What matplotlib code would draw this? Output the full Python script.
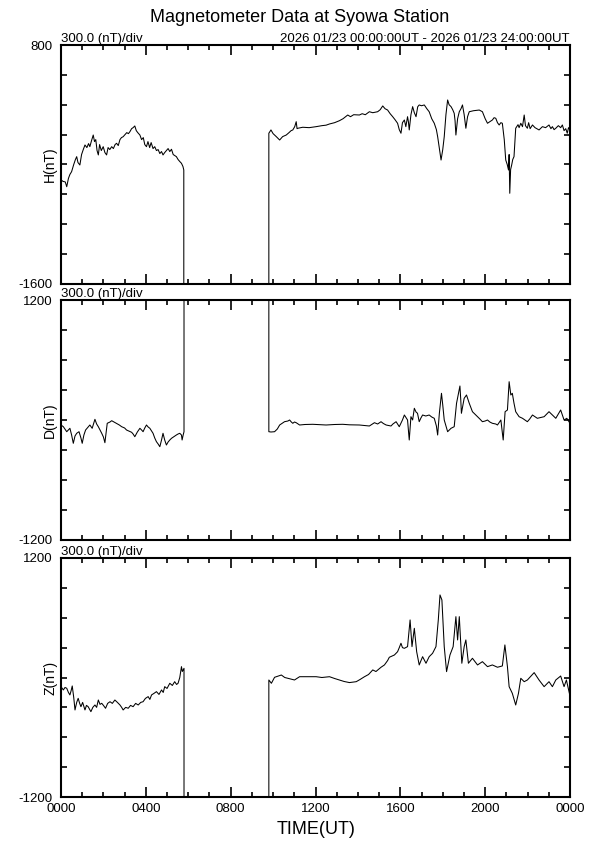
import matplotlib
matplotlib.use('Agg')
import matplotlib.pyplot as plt
import numpy as np
from matplotlib.ticker import MultipleLocator

plt.rcParams['font.family'] = ['Liberation Sans', 'DejaVu Sans']

# missing data is recorded as a huge fill value (draws the vertical edges of the gap)
FILL = 99999.0
gap_start = 5.80
gap_end = 9.80

# H component (nT) before / after data gap
h_t1 = [0.00, 0.10, 0.20, 0.27, 0.35, 0.42, 0.50, 0.60, 0.68, 0.74, 0.80, 0.89, 0.97, 1.05,
        1.13, 1.22, 1.30, 1.36, 1.44, 1.52, 1.58, 1.64, 1.70, 1.76, 1.82, 1.90, 1.99, 2.07,
        2.15, 2.22, 2.30, 2.39, 2.47, 2.55, 2.62, 2.70, 2.78, 2.85, 2.93, 3.02, 3.10, 3.18,
        3.25, 3.33, 3.40, 3.48, 3.55, 3.62, 3.72, 3.80, 3.88, 3.95, 4.03, 4.10, 4.18, 4.25,
        4.34, 4.42, 4.50, 4.58, 4.66, 4.74, 4.81, 4.89, 4.97, 5.05, 5.13, 5.21, 5.29, 5.36,
        5.44, 5.52, 5.60, 5.68, 5.75, 5.79]
h_v1 = [-555, -570, -575, -623, -540, -500, -472, -400, -350, -321, -380, -405, -300, -250,
        -204, -230, -190, -221, -160, -104, -170, -150, -260, -304, -200, -260, -221, -280,
        -304, -230, -250, -221, -240, -200, -187, -210, -150, -130, -121, -100, -80, -90,
        -70, -40, -30, -13, -60, -80, -104, -150, -130, -200, -221, -170, -230, -180,
        -240, -221, -260, -250, -290, -270, -304, -280, -260, -240, -270, -247, -300, -310,
        -321, -350, -370, -388, -420, -455]
h_t2 = [9.80, 9.90, 10.00, 10.15, 10.31, 10.45, 10.62, 10.75, 10.85, 10.93, 11.02, 11.09, 11.13,
        11.17, 11.30, 11.40, 11.70, 12.03, 12.30, 12.50, 12.66, 12.90, 13.13, 13.30, 13.52,
        13.65, 13.80, 14.07, 14.20, 14.35, 14.54, 14.70, 14.93, 15.05, 15.17, 15.28, 15.40,
        15.52, 15.64, 15.75, 15.87, 15.95, 16.03, 16.10, 16.19, 16.26, 16.34, 16.38, 16.42,
        16.50, 16.58, 16.66, 16.74, 16.82, 16.89, 17.00, 17.13, 17.25, 17.36, 17.48, 17.60,
        17.70, 17.76, 17.85, 17.92, 18.00, 18.07, 18.15, 18.23, 18.30, 18.39, 18.47, 18.54,
        18.58, 18.62, 18.70, 18.78, 18.86, 18.93, 19.01, 19.09, 19.17, 19.25, 19.45, 19.72,
        19.87, 20.00, 20.11, 20.22, 20.34, 20.42, 20.50, 20.58, 20.66, 20.74, 20.81, 20.90,
        20.97, 21.04, 21.10, 21.13, 21.16, 21.20, 21.25, 21.30, 21.36, 21.44, 21.55, 21.60,
        21.68, 21.76, 21.84, 21.90, 21.99, 22.05, 22.12, 22.23, 22.35, 22.54, 22.70, 22.85,
        23.01, 23.10, 23.17, 23.25, 23.33, 23.45, 23.56, 23.64, 23.72, 23.80, 23.87, 23.93,
        24.00]
h_v2 = [-86, -53, -90, -120, -154, -120, -104, -80, -60, -53, -20, 30, -40,
        -36, -30, -26, -30, -20, -10, -5, 7, 20, 40, 60, 97,
        80, 100, 97, 110, 100, 130, 120, 130, 150, 188, 160, 147,
        110, 80, 50, 14, -50, -86, 20, 47, -20, 80, 30, -53,
        100, 181, 120, 80, 180, 198, 190, 198, 160, 130, 60, 14,
        -50, -121, -250, -355, -250, -121, 100, 248, 200, 181, 150, 114,
        40, -104, 60, 130, 160, 198, 100, -36, 80, 130, 140, 147,
        130, 60, 14, 30, 47, 70, 64, 20, -3, 20, 14, -150,
        -355, -400, -455, -300, -689, -450, -405, -350, -321, -36, 0, -30,
        14, -20, 97, -10, -36, 20, -40, -3, -30, -53, -20, -30,
        -3, -40, -20, -50, -36, -10, -30, -3, -60, -40, -86, -30,
        -53]

# D component (nT)
d_t1 = [0.00, 0.11, 0.27, 0.42, 0.50, 0.58, 0.66, 0.74, 0.85, 0.94, 1.00, 1.08, 1.16, 1.28,
        1.36, 1.47, 1.60, 1.68, 1.76, 1.92, 2.00, 2.07, 2.18, 2.31, 2.39, 2.50, 2.62, 2.75,
        2.86, 3.00, 3.09, 3.20, 3.33, 3.40, 3.48, 3.60, 3.72, 3.80, 3.87, 3.95, 4.03, 4.11,
        4.19, 4.27, 4.34, 4.42, 4.50, 4.58, 4.66, 4.74, 4.81, 4.89, 4.97, 5.05, 5.13, 5.21,
        5.30, 5.36, 5.44, 5.52, 5.60, 5.68, 5.71, 5.76, 5.80]
d_v1 = [-50, -67, -117, -83, -150, -233, -160, -133, -117, -180, -233, -150, -100, -70,
        -50, -83, 7, -40, -67, -133, -170, -227, -33, -20, -7, -20, -33, -50,
        -67, -80, -100, -110, -123, -140, -167, -120, -83, -100, -117, -80, -50, -70,
        -83, -110, -133, -180, -217, -240, -267, -200, -133, -200, -250, -220, -200, -183,
        -170, -160, -150, -140, -133, -150, -200, -150, -117]
d_t2 = [9.80, 9.90, 10.07, 10.20, 10.31, 10.45, 10.54, 10.70, 10.78, 10.86, 10.93, 11.01, 11.09,
        11.25, 11.50, 11.87, 12.20, 12.50, 12.90, 13.28, 13.60, 14.07, 14.30, 14.54, 14.78,
        14.93, 15.09, 15.20, 15.33, 15.45, 15.56, 15.65, 15.80, 15.87, 15.95, 16.10, 16.19,
        16.28, 16.34, 16.42, 16.50, 16.58, 16.66, 16.74, 16.81, 16.89, 16.97, 17.05, 17.20,
        17.36, 17.48, 17.60, 17.70, 17.76, 17.84, 17.94, 18.00, 18.07, 18.23, 18.39, 18.54,
        18.65, 18.81, 18.85, 18.88, 18.95, 19.01, 19.12, 19.25, 19.40, 19.64, 19.75, 19.87,
        20.00, 20.11, 20.22, 20.34, 20.50, 20.58, 20.74, 20.85, 20.94, 21.05, 21.13, 21.21,
        21.28, 21.36, 21.44, 21.60, 21.76, 21.99, 22.10, 22.23, 22.46, 22.78, 23.01, 23.17,
        23.33, 23.56, 23.72, 23.85, 24.00]
d_v2 = [-117, -120, -117, -90, -50, -30, -17, -10, 0, -20, -33, -20, -27,
        -50, -45, -43, -47, -50, -45, -43, -48, -50, -55, -60, -27,
        -40, -17, -35, -50, -55, -60, -40, -17, -40, -67, 0, 50,
        20, 0, -200, 33, 0, 117, 80, 67, -17, 20, 50, 40,
        50, 30, 17, -60, -150, 67, 267, 150, 0, -117, -83, -67,
        167, 340, 200, 67, 150, 217, 250, 167, 83, 33, 10, -17,
        -10, 0, -20, -33, -40, -50, 0, -200, 83, 100, 383, 250,
        267, 167, 83, 33, 17, -17, 10, 50, 17, 33, 83, 50,
        17, 100, 0, 17, -33]

# Z component (nT)
z_t1 = [0.00, 0.06, 0.11, 0.19, 0.27, 0.35, 0.42, 0.48, 0.53, 0.60, 0.66, 0.74, 0.81, 0.88,
        0.94, 1.02, 1.13, 1.20, 1.28, 1.35, 1.41, 1.50, 1.60, 1.68, 1.76, 1.84, 1.92, 2.00,
        2.10, 2.20, 2.31, 2.42, 2.54, 2.66, 2.78, 2.86, 2.93, 3.05, 3.17, 3.28, 3.40, 3.52,
        3.64, 3.76, 3.87, 3.98, 4.11, 4.19, 4.27, 4.38, 4.50, 4.62, 4.74, 4.82, 4.89, 5.00,
        5.13, 5.25, 5.36, 5.45, 5.52, 5.60, 5.68, 5.72, 5.76, 5.80]
z_v1 = [-92, -110, -125, -100, -108, -150, -175, -130, -85, -200, -326, -250, -209, -260,
        -293, -250, -326, -280, -293, -320, -343, -300, -276, -300, -226, -270, -259, -280,
        -309, -260, -243, -260, -226, -250, -276, -300, -326, -300, -309, -280, -293, -260,
        -276, -250, -243, -210, -192, -220, -175, -160, -142, -170, -125, -150, -92, -110,
        -58, -80, -42, -70, -58, 0, 109, 60, 76, 92]
z_t2 = [9.80, 9.92, 10.07, 10.39, 10.55, 10.70, 11.01, 11.25, 11.56, 12.03, 12.30, 12.66, 12.90,
        13.13, 13.35, 13.60, 13.92, 14.10, 14.31, 14.50, 14.70, 14.85, 15.09, 15.25, 15.40,
        15.48, 15.60, 15.72, 15.87, 15.95, 16.03, 16.10, 16.19, 16.34, 16.46, 16.55, 16.66,
        16.77, 16.89, 17.05, 17.21, 17.36, 17.52, 17.68, 17.79, 17.87, 17.96, 18.07, 18.18,
        18.34, 18.49, 18.62, 18.70, 18.78, 18.90, 19.01, 19.09, 19.21, 19.40, 19.64, 19.87,
        20.11, 20.34, 20.58, 20.81, 20.93, 21.05, 21.13, 21.28, 21.44, 21.57, 21.68, 21.84,
        21.99, 22.31, 22.54, 22.78, 23.01, 23.17, 23.33, 23.56, 23.72, 23.83, 24.00]
z_v2 = [-25, -58, 2, 25, 0, -8, -25, 8, 8, 8, 0, 8, -10,
        -25, -40, -51, -42, -20, 8, 30, 76, 60, 103, 126, 170,
        203, 215, 226, 259, 300, 344, 300, 293, 310, 578, 310, 494,
        259, 126, 209, 143, 209, 243, 310, 578, 829, 779, 310, 59,
        226, 310, 611, 377, 611, 143, 310, 377, 143, 193, 126, 159,
        109, 126, 103, 116, 327, 109, -92, -159, -276, -159, -8, -42,
        -25, 49, -25, -92, -42, -92, -25, 15, -92, -25, -186]

panels = ['H(nT)', 'D(nT)', 'Z(nT)']
y_limits = [(-1600, 800), (-1200, 1200), (-1200, 1200)]
fill_sign = [-1, 1, -1]
series = [(h_t1, h_v1, h_t2, h_v2), (d_t1, d_v1, d_t2, d_v2), (z_t1, z_v1, z_t2, z_v2)]
xtick_pos = [0, 4, 8, 12, 16, 20, 24]
xtick_labels = ['0000', '0400', '0800', '1200', '1600', '2000', '0000']

fig = plt.figure(figsize=(5.95, 8.42), dpi=100)
W, H = 595.0, 842.0
left, right = 61, 570
boxes = [(45, 284), (300, 540), (558, 797)]

for i, (name, (lo, hi), sgn, (t1, v1, t2, v2)) in enumerate(zip(panels, y_limits, fill_sign, series)):
    top, bot = boxes[i]
    ax = fig.add_axes([left / W, 1 - bot / H, (right - left) / W, (bot - top) / H])
    t = list(t1) + [gap_start, gap_end] + list(t2)
    v = list(v1) + [sgn * FILL, sgn * FILL] + list(v2)
    ax.plot(t, v, color='black', lw=0.75)
    ax.set_xlim(0, 24)
    ax.set_ylim(lo, hi)

    ax.set_xticks(xtick_pos)
    ax.xaxis.set_minor_locator(MultipleLocator(1))
    yt = np.arange(lo, hi + 1, 300)
    ylabels = [''] * len(yt)
    ylabels[0] = str(lo)
    ylabels[-1] = str(hi)
    ax.set_yticks(yt)
    ax.set_yticklabels(ylabels)
    ax.tick_params(axis='both', which='both', direction='in', top=True, right=True,
                   labelsize=9.5, width=1.2)
    ax.tick_params(axis='x', which='major', length=7, pad=4)
    ax.tick_params(axis='x', which='minor', length=3.5)
    ax.tick_params(axis='y', which='major', length=4, pad=6)
    if i == 2:
        ax.set_xticklabels(xtick_labels)
    else:
        ax.set_xticklabels([])
    for s in ax.spines.values():
        s.set_linewidth(1.5)

    fig.text(50 / W, 1 - (top + bot) / 2 / H, name, rotation=90, ha='center', va='center',
             fontsize=10)
    ax.annotate('300.0 (nT)/div', xy=(0, 1), xycoords='axes fraction', xytext=(0, 2),
                textcoords='offset points', ha='left', va='baseline', fontsize=9.5)
    if i == 0:
        ax.annotate('2026 01/23 00:00:00UT - 2026 01/23 24:00:00UT', xy=(1, 1),
                    xycoords='axes fraction', xytext=(0, 2), textcoords='offset points',
                    ha='right', va='baseline', fontsize=9.5)

fig.text(300 / W, 1 - 17 / H, 'Magnetometer Data at Syowa Station', ha='center', va='center',
         fontsize=13)
fig.text(316 / W, 1 - 830 / H, 'TIME(UT)', ha='center', va='center', fontsize=13)

fig.savefig('out.png', dpi=100)
